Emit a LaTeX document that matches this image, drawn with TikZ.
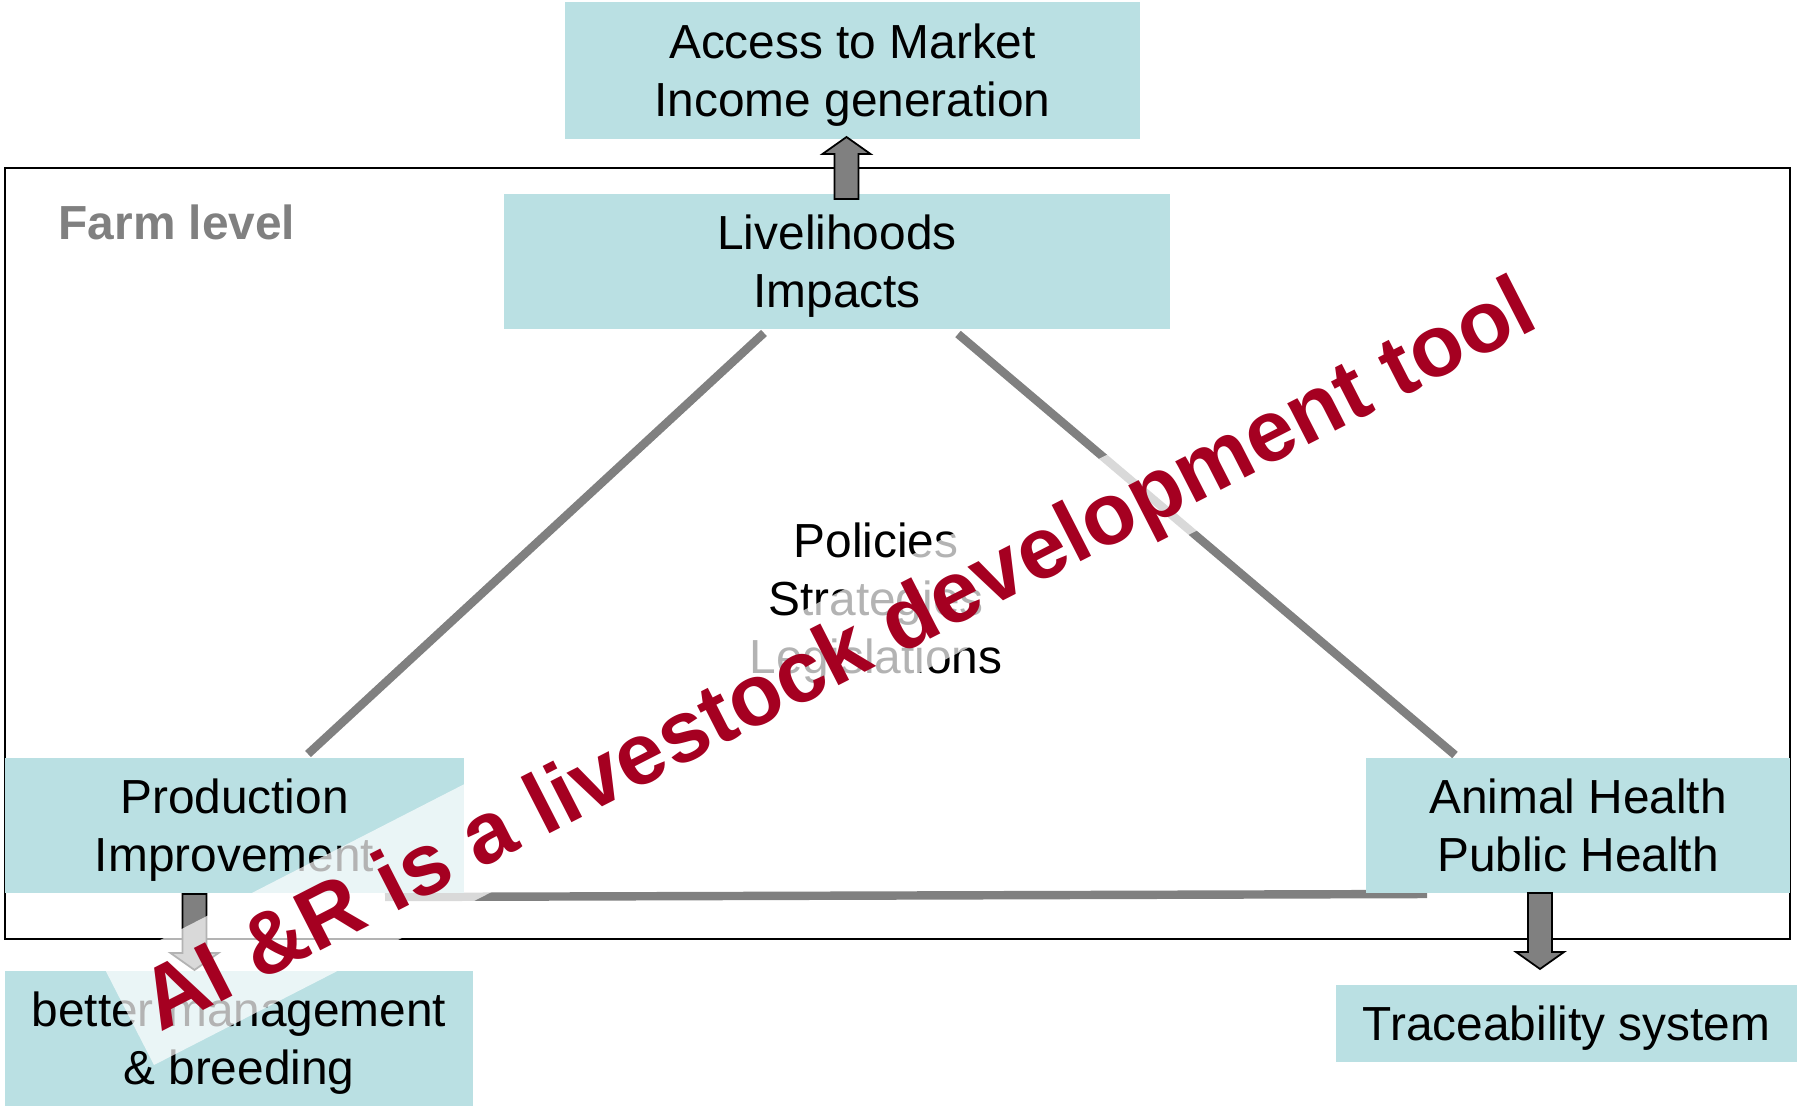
\documentclass[tikz,border=0pt]{standalone}
\usepackage{fontspec}
\setmainfont{Liberation Sans}
\usetikzlibrary{calc}

\definecolor{boxcyan}{RGB}{186,224,227}
\definecolor{linegray}{RGB}{128,128,128}
\definecolor{slogan}{RGB}{165,0,33}

% vertical block arrow from #1 to the tip #2
\newcommand{\blockarrow}[2]{%
  \draw[blockarr] let \p1=(#1), \p2=(#2), \n1={sign(\y2-\y1)} in
    (\x1-0.12cm,\y1) -- (\x1-0.12cm,{\y2-\n1*0.17cm}) -- (\x1-0.24cm,{\y2-\n1*0.17cm})
    -- (\x2,\y2) -- (\x1+0.24cm,{\y2-\n1*0.17cm}) -- (\x1+0.12cm,{\y2-\n1*0.17cm})
    -- (\x1+0.12cm,\y1) -- cycle;}

\begin{document}
\begin{tikzpicture}[x=0.01cm, y=-0.01cm]

        % Styles
        \tikzset{
            box/.style={fill=boxcyan, inner sep=0pt, align=center, text depth=0pt,
                        font=\fontsize{13.6}{16.5}\selectfont},
            link/.style={draw=linegray, line width=2.4pt},
            blockarr/.style={draw=black, fill=linegray, line width=0.5pt}
        }

        \useasboundingbox (0,0) rectangle (1806,1110);

        % =================================================================
        % 1. FARM LEVEL FRAME
        % =================================================================
        \draw[line width=0.5pt] (5,168) rectangle (1790,939);
        \node[anchor=base west, inner sep=0pt, text=linegray,
              font=\fontsize{13.6}{16.5}\selectfont\bfseries] (farm) at (58,240) {Farm level};

        % Triangle sides (they run under the boxes)
        \coordinate (lhL) at (764,333);
        \coordinate (lhR) at (958,334);
        \coordinate (prodT) at (308,754);
        \coordinate (ahT) at (1455,755);
        \coordinate (prodR) at (385,897);
        \coordinate (ahL) at (1427,894);
        \draw[link] (lhL) -- (prodT);
        \draw[link] (lhR) -- (ahT);
        \draw[link] (prodR) -- (ahL);

        % =================================================================
        % 2. BOXES
        % =================================================================
        \node[box, minimum width=5.75cm, minimum height=1.37cm] (acc) at (852.5,70.5) {Access to Market\\Income generation};
        \node[box, minimum width=6.66cm, minimum height=1.35cm] (lh) at (837,261.5) {Livelihoods\\Impacts};
        \node[box, minimum width=4.59cm, minimum height=1.35cm] (prod) at (234.5,825.5) {Production\\Improvement};
        \node[box, minimum width=4.24cm, minimum height=1.35cm] (ah) at (1578,825.5) {Animal Health\\Public Health};
        \node[box, minimum width=4.68cm, minimum height=1.35cm] (bm) at (239,1038.5) {better management\\\& breeding};
        \node[box, minimum width=4.61cm, minimum height=0.77cm] (tr) at (1566.5,1023.5) {Traceability system};

        % Policies in the middle of the triangle
        \node[align=center, inner sep=0pt, text depth=0pt,
              font=\fontsize{13.6}{16.5}\selectfont] (pol) at (876,598) {Policies\\Strategies\\Legislations};

        % =================================================================
        % 3. BLOCK ARROWS
        % =================================================================
        \coordinate (lhtop) at (846.5,199);
        \coordinate (acctip) at (846.5,137);
        \coordinate (prodbot) at (194.5,894);
        \coordinate (bmtip) at (194.5,970);
        \coordinate (ahbot) at (1540,893);
        \coordinate (trtip) at (1540,969);
        \blockarrow{lhtop}{acctip}
        \blockarrow{prodbot}{bmtip}
        \blockarrow{ahbot}{trtip}

        % =================================================================
        % 4. SLOGAN ON A TRANSLUCENT BAND
        % =================================================================
        \fill[white, fill opacity=0.7] (104.5,968.5) -- (154,1065) -- (1560,344.5) -- (1510.5,248) -- cycle;
        \node[anchor=base west, rotate=27.1, inner sep=0pt, text=slogan,
              font=\fontsize{24.8}{29}\selectfont\bfseries] (tool) at (160,1033) {AI \&R is a livestock development tool};

\end{tikzpicture}
\end{document}
